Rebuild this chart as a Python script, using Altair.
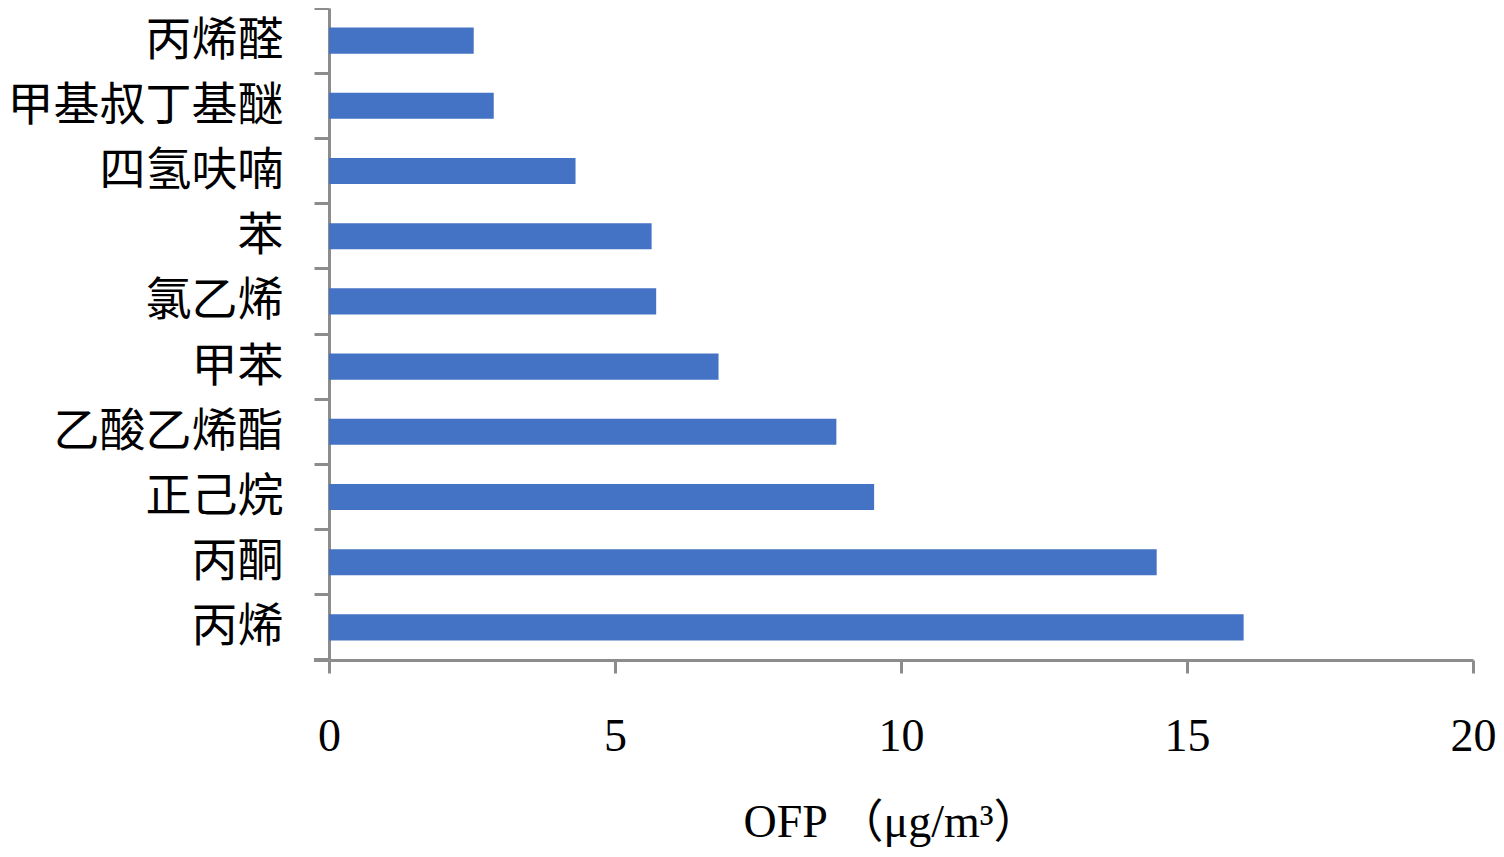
import altair as alt
import pandas as pd

categories = ["丙烯醛", "甲基叔丁基醚", "四氢呋喃", "苯", "氯乙烯", "甲苯", "乙酸乙烯酯", "正己烷", "丙酮", "丙烯"]
values = [2.53, 2.88, 4.31, 5.64, 5.72, 6.81, 8.87, 9.53, 14.47, 15.99]
x_ticks = [0, 5, 10, 15, 20]

df = pd.DataFrame({"name": categories, "ofp": values})

W, H = 1144, 652
FONT = "Liberation Serif, Times New Roman, Noto Sans CJK SC"
GRAY = "#8c8c8c"

bars = alt.Chart(df).mark_bar(color="#4472C4").encode(
    x=alt.X("ofp:Q",
            scale=alt.Scale(domain=[0, 20], nice=False),
            axis=alt.Axis(values=x_ticks, title="OFP （μg/m³）", grid=False,
                          domainColor=GRAY, domainWidth=3, tickColor=GRAY, tickWidth=3,
                          tickSize=13, labelFont=FONT, labelFontSize=46, labelColor="black",
                          labelPadding=77, labelBaseline="alphabetic",
                          titleFont=FONT, titleFontSize=46, titleFontWeight="normal",
                          titleColor="black", titleBaseline="alphabetic", titleY=176, titleX=562,
                          titleAlign="center", labelFlush=False)),
    y=alt.Y("name:N", sort=categories,
            scale=alt.Scale(paddingInner=0.6, paddingOuter=0.3),
            axis=alt.Axis(title=None, grid=False, domainColor=GRAY, domainWidth=3,
                          tickColor=GRAY, tickWidth=3, tickSize=15, bandPosition=-0.75,
                          labelFont=FONT, labelFontSize=46, labelColor="black", labelPadding=31,
                          labelLimit=400)),
)

bottom_tick = alt.Chart(df).mark_rule(color=GRAY, strokeWidth=3).encode(
    x=alt.value(-15), x2=alt.value(0), y=alt.value(H)
)

chart = alt.layer(bars, bottom_tick).properties(
    width=W, height=H,
    autosize=alt.AutoSizeParams(type="none"),
    padding={"left": 321, "top": 0, "right": 23, "bottom": 189},
).configure_view(stroke=None)

chart.save("out.html", embed_options={"renderer": "svg", "actions": False})
